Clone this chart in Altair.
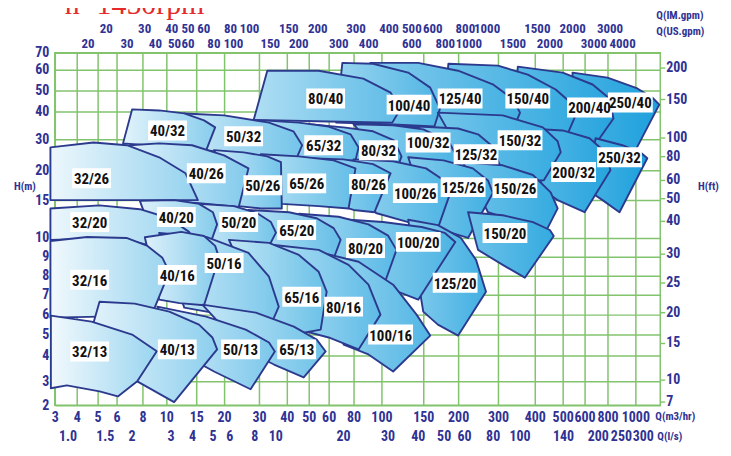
import math
import altair as alt
import pandas as pd

W, H = 608, 354
FONT = "Roboto Condensed, Liberation Sans Narrow, Roboto, sans-serif"
NAVY = "#2f3293"
EDGE = "#2c3a8e"
GREEN = "#82c36d"
RED = "#e42a2a"
BASE = (24, 158, 220)

# ---- axis values (hand-drawn chart: piecewise scale through the printed ticks)
X_TICKS = [3, 4, 5, 6, 8, 10, 15, 20, 30, 40, 50, 60, 80, 100, 150, 200, 300, 400, 500, 600, 800, 1000]
X_DOMAIN = X_TICKS + [1250]
X_PIX = [0, 22, 43, 62, 88, 112, 142, 170, 205, 233, 255, 275, 300, 328, 370, 405, 445, 482, 510, 532, 555, 583, 608]
Y_TICKS = [2, 3, 4, 5, 6, 7, 8, 9, 10, 15, 20, 30, 40, 50, 60, 70]
Y_PIX = [354, 330, 304, 283, 263, 243, 224, 205, 186, 148, 118, 87, 59, 38, 17, 0]

FT_TICKS = [200, 150, 100, 80, 60, 50, 40, 30, 25, 20, 15, 10, 7]
IM_GPM = [20, 30, 40, 50, 60, 80, 100, 150, 200, 300, 400, 500, 600, 800, 1000, 1500, 2000, 3000]
US_GPM = [20, 30, 40, 50, 60, 80, 100, 150, 200, 300, 400, 600, 800, 1000, 1500, 2000, 3000, 4000]
LPS = [1.0, 1.5, 2, 3, 4, 5, 6, 8, 10, 20, 30, 40, 50, 60, 80, 100, 140, 200, 250, 300]
LPS_TEXT = ["1.0", "1.5", "2", "3", "4", "5", "6", "8", "10", "20", "30", "40", "50", "60",
            "80", "100", "140", "200", "250", "300"]

# ---- pump working ranges (Q m3/h, H m), outline order; drawn right-to-left per row
ROW_40 = {
    "250/40": [(545, 58.6), (800, 56.2), (1020, 51), (1170, 46.7), (1240, 43.3), (993, 25.8), (713, 29), (545, 31.4)],
    "200/40": [(354, 61.8), (500, 58.6), (670, 52.9), (814, 46.2), (843, 37.5), (670, 27.1), (482, 29.7), (340, 32.5)],
    "150/40": [(186, 63.5), (300, 62.4), (381, 57.6), (475, 50.5), (541, 43.8), (559, 38.6), (523, 32.1), (327, 32.5), (179, 33.6)],
    "125/40": [(92, 64), (144, 64), (200, 59.5), (287, 53), (340, 46), (360, 39.6), (340, 33.2), (186, 34), (91, 35)],
    "100/40": [(71, 64), (94, 63.5), (132, 58.6), (160, 51.4), (174, 41.4), (166, 34.6), (108, 35.4), (66, 36)],
    "80/40": [(33, 59.5), (55, 59.5), (87, 55.7), (111, 49), (123, 41.4), (113, 36), (60, 36.4), (28.5, 37)],
}
ROW_32 = {
    "250/32": [(696, 30.4), (907, 28.1), (1050, 25.8), (1120, 23.9), (886, 13.4), (757, 15), (626, 16.7)],
    "200/32": [(381, 33.9), (500, 33.2), (643, 30.4), (783, 25.8), (821, 20), (600, 13.4), (482, 15), (429, 16.7)],
    "150/32": [(171, 39.6), (313, 38.6), (429, 34.3), (482, 29.4), (493, 25.8), (432, 18.3), (327, 18.3), (237, 19.2)],
    "125/32": [(144, 34.6), (200, 33.9), (250, 31.8), (287, 27.7), (305, 21.6), (295, 18.3), (212, 18.7), (171, 19.2)],
    "100/32": [(80, 35.4), (114, 35), (150, 33.6), (186, 29.4), (200, 23.9), (194, 19.7), (144, 19.7), (114, 20.6)],
    "80/32": [(50, 35.4), (72, 34.3), (94, 32.9), (115, 29.7), (124, 24.5), (119, 20.6), (87, 20.6), (68, 22.3)],
    "65/32": [(28.5, 37), (45.5, 36), (60, 34.6), (77.6, 31.8), (83.6, 27.4), (81.4, 23.2), (55, 23.2), (41, 23.9)],
    "50/32": [(13, 39.3), (20, 38.6), (33.6, 36), (43, 32.9), (47, 28.1), (44.5, 24), (27, 24.5), (16.8, 26.5)],
    "40/32": [(7.2, 41), (9.4, 40.5), (13, 39.3), (16.4, 36.8), (18.4, 34.3), (16.8, 26.5), (9.8, 27.7), (6.5, 28.7)],
}
ROW_26 = {
    "150/26": [(212, 22.6), (313, 21.6), (395, 19.2), (457, 16.3), (482, 13.9), (439, 10.8), (354, 12.1), (275, 13.4)],
    "125/26": [(132, 24.2), (179, 23.2), (237, 20.6), (275, 18.3), (287, 16.2), (225, 10), (186, 10.8), (160, 11.8)],
    "100/26": [(80, 23.5), (114, 22.9), (154, 20.6), (181, 18.2), (189, 16.3), (171, 11.3), (132, 12.1), (96, 13.3)],
    "80/26": [(50, 23.9), (72, 23.5), (94, 22), (111, 19.5), (95, 13.4), (80, 13.7), (72, 14.1)],
    "65/26": [(30.7, 25.2), (45.5, 24.5), (64, 23.2), (81.4, 20.6), (76, 13.9), (55, 14.2), (38.2, 14.5)],
    "50/26": [(18.2, 26.5), (25.6, 25.8), (33, 24.5), (37.9, 22.6), (38.2, 13.9), (30.7, 13.9), (24.2, 14.2)],
    "40/26": [(7, 28.1), (9.4, 28.7), (14.3, 28.1), (20, 24.8), (27, 20.6), (24.2, 14.1), (15.5, 14.6), (9.4, 15)],
    "32/26": [(2.8, 27.4), (4.8, 29), (6.8, 28.1), (9.4, 24.2), (13.2, 19.5), (15.3, 15), (2.8, 15)],
}
ROW_20 = {
    "150/20": [(225, 13.4), (313, 13), (395, 12.1), (454, 11.05), (468, 10.26), (373, 7.9), (313, 8.58), (250, 9.37)],
    "125/20": [(132, 12.4), (171, 11.7), (207, 10), (245, 8.84), (270, 7.16), (200, 4.95), (171, 5.5), (150, 6.15)],
    "100/20": [(68, 12.5), (102, 12.1), (148, 11.45), (181, 10.66), (196, 9.79), (144, 6.75), (114, 7.26), (90.7, 8.05)],
    "80/20": [(45.5, 13.2), (68, 12.8), (90.7, 11.8), (108, 10.3), (118, 9.37), (101, 7.26), (83.6, 7.79), (60, 8.42)],
    "65/20": [(27, 13.7), (41, 13.4), (54, 12.6), (64, 11.3), (69.6, 9.9), (60, 8.21), (45.5, 8.74), (33.6, 9.26)],
    "50/20": [(15.5, 14.5), (22.8, 14.2), (29.4, 13.3), (34.3, 12.1), (36.1, 10.7), (30.7, 8.74), (22.8, 9.1), (17.7, 9.58)],
    "40/20": [(7.8, 14.9), (11.3, 15), (15.5, 14.5), (18, 13.4), (18.75, 11.8), (17, 9.26), (12.2, 9.53), (9, 9.9)],
    "32/20": [(2.8, 13.9), (5.1, 14.3), (7.8, 13.8), (10.5, 12.6), (13.8, 10.8), (15.5, 9.5), (13.8, 8.7), (8.6, 9.6), (6.2, 10), (2.8, 9.9)],
}
ROW_16 = {
    "100/16": [(55, 9.26), (83.6, 8.74), (114, 7.53), (142, 6), (160, 4.95), (114, 3.38), (90.7, 4.05), (72, 4.52)],
    "80/16": [(35.4, 9.63), (55, 9.37), (76, 8.58), (90.7, 7.53), (99.3, 6), (83.6, 4.29), (60, 4.86), (45.5, 5.25)],
    "65/16": [(21.4, 9.9), (33.6, 9.74), (45.5, 9.1), (55, 8.21), (59, 7.16), (56, 5.25), (43.2, 5), (33.6, 5.25)],
    "50/16": [(9.4, 10.66), (16.8, 10.13), (27, 9.21), (33.6, 7.95), (37.1, 6.4), (34.3, 5.5), (21.4, 5.95), (13, 6.35)],
    "40/16": [(8.2, 10.1), (12.5, 10.8), (16.4, 10.26), (18.4, 9.58), (19.1, 8.95), (16.4, 6.47), (12.2, 6.58), (9.4, 6.75)],
    "32/16": [(2.8, 9.84), (4.5, 10.13), (6.77, 10), (8.42, 9.58), (9.67, 8.95), (10.5, 8.21), (8.75, 5.95), (2.8, 5.85)],
}
ROW_13 = {
    "65/13": [(16.1, 6.5), (29.1, 6.1), (43.2, 5.4), (54, 4.76), (58.5, 4.19), (47.7, 3.15), (35.4, 3.65), (25.6, 4.29)],
    "50/13": [(9.25, 6.4), (16.8, 5.9), (26.2, 5.25), (33.6, 4.62), (35.7, 4.19), (27.6, 2.67), (18.2, 3.38), (11.3, 4.29)],
    "40/13": [(5.1, 6.65), (7.4, 6.55), (10.5, 6.15), (15.5, 5.5), (17.9, 4.86), (18.75, 4.29), (11.3, 2.13), (7.6, 3), (4.5, 4.5)],
    "32/13": [(2.82, 5.95), (4.71, 5.65), (7.2, 5), (9.2, 4.2), (7.6, 3), (6.1, 2.37), (5.1, 2.58), (3.55, 2.83), (2.82, 2.71)],
}
ROWS = [ROW_40, ROW_32, ROW_26, ROW_20, ROW_16, ROW_13]

LABEL_TEXT = ["80/40", "100/40", "125/40", "150/40", "200/40", "250/40",
              "40/32", "50/32", "65/32", "80/32", "100/32", "125/32", "150/32", "200/32", "250/32",
              "32/26", "40/26", "50/26", "65/26", "80/26", "100/26", "125/26", "150/26",
              "32/20", "40/20", "50/20", "65/20", "80/20", "100/20", "125/20", "150/20",
              "32/16", "40/16", "50/16", "65/16", "80/16", "100/16",
              "32/13", "40/13", "50/13", "65/13"]
LABEL_Q = [58.5, 133, 205, 381, 643, 964,
           10.2, 25.6, 57.5, 97.9, 157, 245, 360, 550, 886,
           4.71, 16.8, 31.4, 49.1, 90.7, 140.5, 212.5, 346,
           4.62, 11.67, 24.2, 44.5, 88.6, 144, 195.7, 319,
           4.62, 11.83, 20, 46.8, 72, 111,
           4.62, 11.83, 24.7, 44.5]
LABEL_H = [46.2, 43.3, 46.2, 46.2, 41.9, 44.3,
           33.2, 31.1, 28.1, 26.5, 29, 25.2, 29.7, 19.7, 24.2,
           18.67, 19.5, 17.5, 17.8, 17.7, 16.17, 17.17, 17,
           12.1, 12.76, 12.1, 11.05, 9.47, 9.79, 7.63, 10.66,
           7.79, 8.05, 8.68, 6.9, 6.4, 5,
           4.19, 4.29, 4.29, 4.29]

# ---------------------------------------------------------------- build
XS = alt.Scale(domain=X_DOMAIN, range=X_PIX, zero=False, nice=False)
YS = alt.Scale(domain=Y_TICKS, range=Y_PIX, zero=False, nice=False)

label_style = dict(labelColor=NAVY, labelFont=FONT, labelFontSize=14, labelFontWeight="bold",
                   labelOverlap=False, labelFlush=False, labelBound=False)
X_AXIS = alt.Axis(values=X_TICKS, format="d", title=None, grid=True, gridColor=GREEN, gridWidth=1.5,
                  gridOpacity=1, ticks=False, domain=False, labelPadding=5, **label_style)
Y_AXIS = alt.Axis(values=Y_TICKS, format="d", title=None, grid=True, gridColor=GREEN, gridWidth=1.5,
                  gridOpacity=1, ticks=False, domain=False, labelPadding=6, **label_style)


def xq(field="Q:Q"):
    return alt.X(field, scale=XS, axis=X_AXIS)


def yh(field="H:Q"):
    return alt.Y(field, scale=YS, axis=Y_AXIS)


def mix(t):
    c = [round(255 + (b - 255) * t) for b in BASE]
    return "#%02x%02x%02x" % tuple(c)


def gradient_for(pts):
    qs = [p[0] for p in pts]
    lo, hi = math.log10(3), math.log10(1000)
    g = (0.5 * (math.log10(min(qs)) + math.log10(max(qs))) - lo) / (hi - lo)
    g = min(max(g, 0.0), 1.0)
    tl = 0.03 + 0.8 * g ** 1.4
    tr = 0.38 + 0.62 * g
    return alt.LinearGradient(gradient="linear", x1=0, y1=0, x2=1, y2=0,
                              stops=[alt.GradientStop(color=mix(tl), offset=0),
                                     alt.GradientStop(color=mix(tr), offset=1)])


records = []
for row in ROWS:
    for name, pts in row.items():
        for i, (q, h) in enumerate(pts):
            records.append({"pump": name, "i": i, "Q": q, "H": h})
shapes_df = pd.DataFrame(records)

layers = []
for row in ROWS:
    for name, pts in row.items():
        layers.append(
            alt.Chart(shapes_df).transform_filter(alt.datum.pump == name).mark_line(
                interpolate="linear-closed", fill=gradient_for(pts), stroke=EDGE,
                strokeWidth=1.9, strokeJoin="round"
            ).encode(x=xq(), y=yh(), order=alt.Order("i:Q"))
        )

lab_df = pd.DataFrame({"t": LABEL_TEXT, "Q": LABEL_Q, "H": LABEL_H})
lab_df["n"] = lab_df["t"].str.len()
for n, half_w in ((5, 19.5), (6, 22.5)):
    hh = 10 / half_w
    box = "M-1,-%.3fL1,-%.3fL1,%.3fL-1,%.3fZ" % (hh, hh, hh, hh)
    layers.append(
        alt.Chart(lab_df[lab_df["n"] == n]).mark_point(
            shape=box, size=(2 * half_w) ** 2, filled=True, fill="white", opacity=1, strokeWidth=0
        ).encode(x=xq(), y=yh())
    )
layers.append(
    alt.Chart(lab_df).mark_text(font=FONT, fontSize=15, fontWeight="bold", color="#111111", dy=1).encode(
        x=xq(), y=yh(), text="t:N")
)

# right axis in feet
ft_df = pd.DataFrame({"ft": FT_TICKS})
ft_df["m"] = ft_df["ft"] * 0.3048
ft_df["lab"] = ft_df["ft"].astype(str)
layers.append(alt.Chart(ft_df).mark_rule(color=GREEN, strokeWidth=1.4).encode(
    x=alt.value(W), x2=alt.value(W + 5), y=yh("m:Q")))
layers.append(alt.Chart(ft_df).mark_text(font=FONT, fontSize=14, fontWeight="bold", color=NAVY, align="left").encode(
    x=alt.value(W + 6), y=yh("m:Q"), text="lab:N"))

# top flow rows (gpm) and bottom l/s row
im_df = pd.DataFrame({"lab": [str(v) for v in IM_GPM], "Q": [v / 3.666 for v in IM_GPM]})
us_df = pd.DataFrame({"lab": [str(v) for v in US_GPM], "Q": [v / 4.403 for v in US_GPM]})
ls_df = pd.DataFrame({"lab": LPS_TEXT, "Q": [v * 3.6 for v in LPS]})
for df, yv, fs in ((im_df, -24, 13), (us_df, -9, 13), (ls_df, 386, 14)):
    layers.append(alt.Chart(df).mark_text(font=FONT, fontSize=fs, fontWeight="bold", color=NAVY).encode(
        x=xq(), y=alt.value(yv), text="lab:N"))

ANN_TEXT = ["Q(IM.gpm)", "Q(US.gpm)", "Q(m3/hr)", "Q(l/s)", "H(m)", "H(ft)"]
ANN_X = [604, 604, 603, 605, -30, 646]
ANN_Y = [-37, -21, 366, 386, 135, 135]
for t, xv, yv in zip(ANN_TEXT, ANN_X, ANN_Y):
    layers.append(alt.Chart(pd.DataFrame({"t": [t]})).mark_text(
        font=FONT, fontSize=11, fontWeight="bold", color=NAVY, align="left" if xv > 0 else "center"
    ).encode(x=alt.value(xv), y=alt.value(yv), text="t:N"))

layers.append(alt.Chart(pd.DataFrame({"t": ["n=1450rpm"]})).mark_text(
    font="Liberation Serif, DejaVu Serif, serif", fontSize=30, color=RED, align="left", baseline="alphabetic"
).encode(x=alt.value(10), y=alt.value(-39), text="t:N"))

chart = alt.layer(*layers).properties(
    width=W, height=H,
    padding={"left": 47, "top": 44, "right": 63, "bottom": 38},
    autosize=alt.AutoSizeParams(type="none"),
).configure_view(stroke=GREEN, strokeWidth=1.5)

chart.save("out.html", embed_options={"renderer": "svg", "actions": False})
